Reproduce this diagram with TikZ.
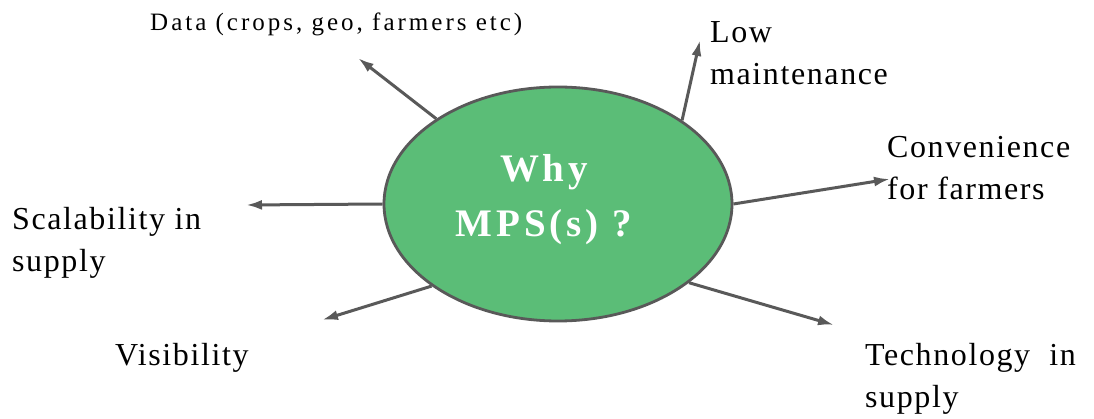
\documentclass[tikz,border=0pt]{standalone}
\usepackage{fontspec}
\setmainfont{Liberation Serif}
\newfontfamily\lblfont{Liberation Serif}[LetterSpace=5]
\newfontfamily\ctrfont{Liberation Serif}[LetterSpace=10]
\usetikzlibrary{shapes.geometric,arrows.meta}
\definecolor{mpsgreen}{HTML}{5BBD77}
\definecolor{edgegray}{HTML}{595959}
\tikzset{
  hub/.style={ellipse, draw=edgegray, line width=2.8pt, fill=mpsgreen,
    minimum width=348pt, minimum height=234pt, inner sep=0pt},
  hubtext/.style={text=white, align=center, inner sep=0pt,
    font={\ctrfont\bfseries\fontsize{39}{55}\selectfont}},
  lbl/.style={anchor=base west, align=left, inner sep=0pt,
    font={\lblfont\fontsize{32}{42}\selectfont}},
  smalllbl/.style={anchor=base west, inner sep=0pt,
    font={\lblfont\addfontfeature{LetterSpace=12}\fontsize{25}{30}\selectfont}},
  spoke/.style={draw=edgegray, line width=3pt,
    -{Latex[length=16pt,width=10pt]}}
}
\begin{document}
\begin{tikzpicture}[x=1pt,y=-1pt]
\useasboundingbox (0,0) rectangle (1094,419);
\node[hub] (c) at (558,204) {};
\node[hubtext] (t) at (544,200) {Why\\MPS(s) ?};
\coordinate (tdata) at (358,58);
\coordinate (tlow) at (700,40);
\coordinate (tconv) at (890,179);
\coordinate (ttech) at (834,325);
\coordinate (tscal) at (246,205);
\coordinate (tvis) at (322,320);
\draw[spoke] (c.145.4) -- (tdata);
\draw[spoke] (c.34.5) -- (tlow);
\draw[spoke] (c.0.3) -- (tconv);
\draw[spoke] (c.-31.3) -- (ttech);
\draw[spoke] (c.180) -- (tscal);
\draw[spoke] (c.213.7) -- (tvis);
\node[smalllbl] (ldata) at (150,31) {Data (crops, geo, farmers etc)};
\node[lbl] (llow) at (710,85) {Low\\maintenance};
\node[lbl] (lconv) at (887,200) {Convenience\\for farmers};
\node[lbl] (ltech) at (865,407) {Technology\ \ in\\supply};
\node[lbl] (lscal) at (12,272) {Scalability in\\supply};
\node[lbl] (lvis) at (115,365) {Visibility};
\end{tikzpicture}
\end{document}
